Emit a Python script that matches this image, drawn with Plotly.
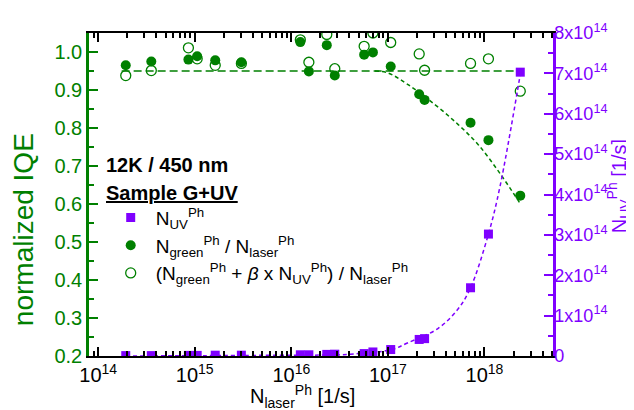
import plotly.graph_objects as go

# ---- data ----
n_laser = [1.93e14, 3.55e14, 8.6e14, 1.06e15, 1.63e15, 3.04e15, 1.24e16, 1.52e16, 2.33e16,
           2.82e16, 5.68e16, 7.0e16, 1.07e17, 2.11e17, 2.40e17, 7.18e17, 1.10e18, 2.35e18]
iqe_green = [0.965, 0.975, 0.980, 0.989, 0.978, 0.973, 1.026, 0.949, 1.018,
             0.938, 0.993, 0.999, 0.962, 0.889, 0.874, 0.814, 0.768, 0.622]
iqe_total = [0.938, 0.951, 1.011, 0.982, 0.965, 0.970, 1.032, 0.973, 1.046,
             0.956, 1.015, 1.05, 1.025, 0.995, 0.952, 0.970, 0.982, 0.897]
n_uv = [0.01e14, 0.01e14, 0.015e14, 0.015e14, 0.02e14, 0.02e14, 0.03e14, 0.03e14, 0.04e14,
        0.045e14, 0.06e14, 0.1e14, 0.16e14, 0.41e14, 0.43e14, 1.69e14, 3.02e14, 7.03e14]

# guide curves
const_x = [1.75e14, 2.35e18]
const_y = [0.95, 0.95]
drop_x = [7.35e16, 1.0e17, 1.62e17, 3.09e17, 5.35e17, 8.63e17, 1.48e18, 2.39e18]
drop_y = [0.95, 0.945, 0.914, 0.861, 0.809, 0.756, 0.677, 0.598]
uvfit_x = [1.93e14, 1.0e16, 3.3e16, 4.9e16, 1.1e17, 1.62e17, 3.3e17, 5.35e17, 7.18e17, 1.10e18, 1.45e18, 2.37e18]
uvfit_y = [0.0, 0.02e14, 0.03e14, 0.06e14, 0.16e14, 0.33e14, 0.68e14, 1.17e14, 1.69e14, 3.02e14, 4.2e14, 7.03e14]

x_tickvals = [1e14, 1e15, 1e16, 1e17, 1e18]
x_ticktext = ["10<sup>14</sup>", "10<sup>15</sup>", "10<sup>16</sup>", "10<sup>17</sup>", "10<sup>18</sup>"]
y_tickvals = [0.2, 0.3, 0.4, 0.5, 0.6, 0.7, 0.8, 0.9, 1.0]
y_ticktext = ["0.2", "0.3", "0.4", "0.5", "0.6", "0.7", "0.8", "0.9", "1.0"]
y2_tickvals = [0, 1e14, 2e14, 3e14, 4e14, 5e14, 6e14, 7e14, 8e14]
y2_ticktext = ["0"] + [f"{i}x10<sup>14</sup>" for i in range(1, 9)]

GREEN = "#008000"
PURPLE = "#7f00ff"
FONT = "Arial, Liberation Sans, sans-serif"

minor_x = [m * 10 ** e for e in range(13, 19) for m in range(2, 10)]

fig = go.Figure()

fig.add_trace(go.Scatter(x=const_x, y=const_y, mode="lines", showlegend=False,
                         line=dict(color=GREEN, width=1.5, dash="8px,4px")))
fig.add_trace(go.Scatter(x=drop_x, y=drop_y, mode="lines", showlegend=False, line_shape="spline",
                         line=dict(color=GREEN, width=1.5, dash="4px,3px")))
fig.add_trace(go.Scatter(x=uvfit_x, y=uvfit_y, mode="lines", showlegend=False, yaxis="y2",
                         line_shape="spline", line=dict(color=PURPLE, width=1.5, dash="4px,3px")))

fig.add_trace(go.Scatter(x=n_laser, y=n_uv, mode="markers", yaxis="y2",
                         name="N<sub>UV</sub><sup>Ph</sup>",
                         marker=dict(symbol="square", size=9, color=PURPLE)))
fig.add_trace(go.Scatter(x=n_laser, y=iqe_green, mode="markers",
                         name="N<sub>green</sub><sup>Ph</sup> / N<sub>laser</sub><sup>Ph</sup>",
                         marker=dict(symbol="circle", size=10, color=GREEN)))
fig.add_trace(go.Scatter(x=n_laser, y=iqe_total, mode="markers",
                         name="(N<sub>green</sub><sup>Ph</sup> + <i>β</i> x N<sub>UV</sub><sup>Ph</sup>) / N<sub>laser</sub><sup>Ph</sup>",
                         marker=dict(symbol="circle-open", size=10, color=GREEN, line=dict(width=1.3))))

fig.update_layout(
    width=634, height=410,
    margin=dict(l=81, r=89, t=25, b=62),
    paper_bgcolor="white", plot_bgcolor="white",
    font=dict(family=FONT, size=20, color="black"),
    xaxis=dict(type="log", range=[13.905, 18.71], tickvals=x_tickvals, ticktext=x_ticktext,
               ticks="inside", ticklen=9, tickwidth=1.5, tickcolor="black",
               showline=True, linecolor="black", linewidth=2, mirror="ticks",
               showgrid=False, zeroline=False,
               minor=dict(tickvals=minor_x, ticks="inside", ticklen=5, tickwidth=1.5,
                          tickcolor="black", showgrid=False),
               tickfont=dict(size=20, color="black")),
    yaxis=dict(range=[0.2, 1.05], tickvals=y_tickvals, ticktext=y_ticktext,
               ticks="inside", ticklen=9, tickwidth=1.5, tickcolor=GREEN,
               showline=True, linecolor=GREEN, linewidth=2.5,
               showgrid=False, zeroline=False,
               minor=dict(dtick=0.05, tick0=0.2, ticks="inside", ticklen=5, tickwidth=1.5,
                          tickcolor=GREEN, showgrid=False),
               tickfont=dict(size=20, color=GREEN)),
    yaxis2=dict(range=[0, 8e14], overlaying="y", side="right", anchor="x",
                tickvals=y2_tickvals, ticktext=y2_ticktext,
                ticks="inside", ticklen=9, tickwidth=1.5, tickcolor=PURPLE,
                showline=True, linecolor=PURPLE, linewidth=2.5,
                showgrid=False, zeroline=False, ticklabelstandoff=-5,
                minor=dict(dtick=0.5e14, tick0=0, ticks="inside", ticklen=5, tickwidth=1.5,
                           tickcolor=PURPLE, showgrid=False),
                tickfont=dict(size=18, color=PURPLE)),
    legend=dict(x=0.036, y=0.487, xanchor="left", yanchor="top",
                bgcolor="rgba(0,0,0,0)", font=dict(size=19, color="black"),
                itemwidth=40, tracegroupgap=0),
    annotations=[
        dict(text="<b>12K / 450 nm</b>", x=0.033, y=0.592, xref="paper", yref="paper",
             xanchor="left", yanchor="middle", showarrow=False, font=dict(size=20)),
        dict(text="<b><u>Sample G+UV</u></b>", x=0.033, y=0.505, xref="paper", yref="paper",
             xanchor="left", yanchor="middle", showarrow=False, font=dict(size=20)),
        dict(text="normalized IQE", x=-0.142, y=0.39, xref="paper", yref="paper",
             xanchor="center", yanchor="middle",
             textangle=-90, showarrow=False, font=dict(size=28, color=GREEN)),
        dict(text="N<sub>UV</sub><sup>Ph</sup> [1/s]", x=1.142, y=0.525, xref="paper", yref="paper",
             xanchor="center", yanchor="middle",
             textangle=-90, showarrow=False, font=dict(size=20, color=PURPLE)),
        dict(text="N<sub>laser</sub><sup>Ph</sup> [1/s]", x=0.461, y=-0.074, xref="paper", yref="paper",
             xanchor="center", yanchor="top",
             showarrow=False, font=dict(size=20, color="black")),
    ],
)

fig.write_html("out.html")
